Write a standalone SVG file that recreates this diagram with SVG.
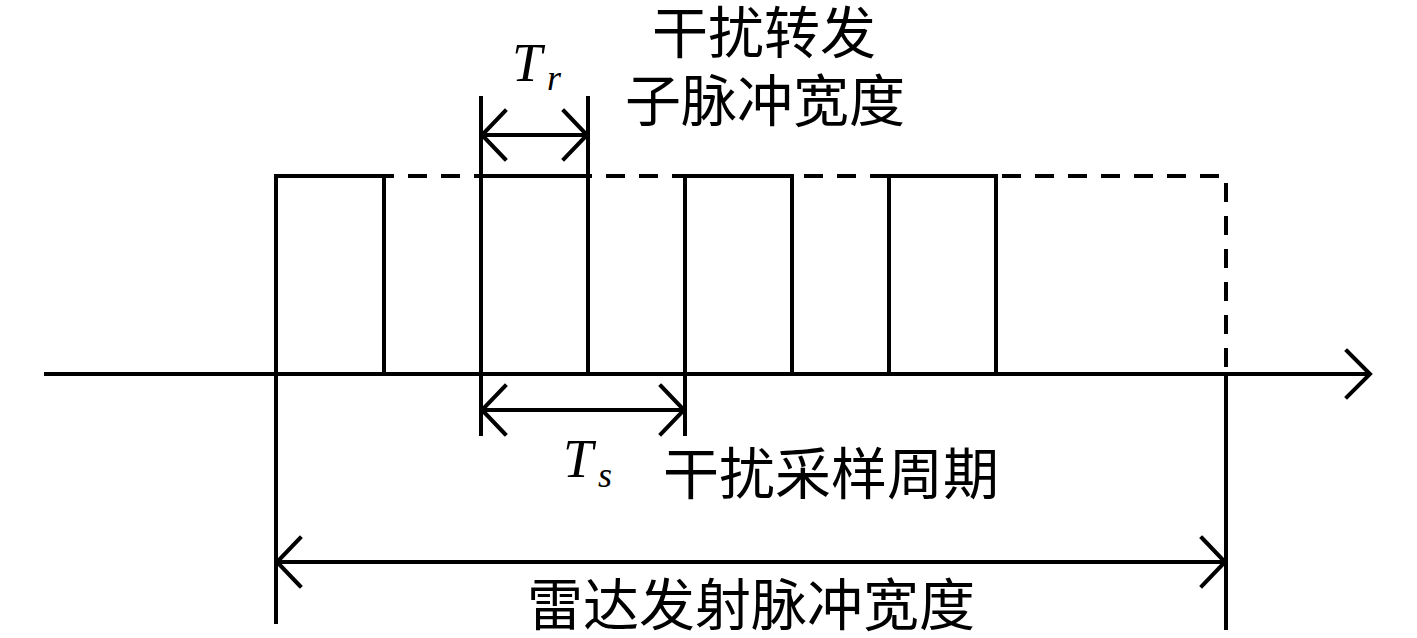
<svg xmlns="http://www.w3.org/2000/svg" width="1417" height="638" viewBox="0 0 1417 638">
<style>
.ln{stroke:#000;stroke-width:4;fill:none;stroke-linecap:square}
.ds{stroke:#000;stroke-width:4;fill:none;stroke-dasharray:19 14}
.cjk{font-family:"Noto Sans CJK SC",sans-serif;font-size:56px;fill:#000;text-anchor:middle}
.m{font-family:"Liberation Serif",serif;font-style:italic;fill:#000}
</style>
<rect width="1417" height="638" fill="#fff"/>
<g id="envelope">
<path class="ds" d="M276 176 H1226 V374"/>
</g>
<g id="pulses">
<path class="ln" d="M276 374 V176 H384 V374"/>
<path class="ln" d="M481 374 V176 H588 V374"/>
<path class="ln" d="M685 374 V176 H792 V374"/>
<path class="ln" d="M889 374 V176 H996 V374"/>
</g>
<g id="axis">
<path class="ln" d="M46 374 H1369"/>
<path class="ln" d="M1347 351 L1370 374 L1347 397" stroke-linecap="round"/>
</g>
<g id="connectors">
<path class="ln" d="M481 98 V374 M588 98 V374"/>
<path class="ln" d="M482 135 H587"/>
<path class="ln" d="M505 111 L482 135 L505 159 M564 111 L587 135 L564 159" stroke-linecap="round"/>
<path class="ln" d="M481 374 V434 M685 374 V434"/>
<path class="ln" d="M482 410 H684"/>
<path class="ln" d="M505 386 L482 410 L505 434 M661 386 L684 410 L661 434" stroke-linecap="round"/>
<path class="ln" d="M276 374 V622 M1226 374 V628"/>
<path class="ln" d="M277 562 H1225"/>
<path class="ln" d="M300 538 L277 562 L300 586 M1202 538 L1225 562 L1202 586" stroke-linecap="round"/>
</g>
<g id="labels">
<text class="cjk" x="764" y="53">干扰转发</text>
<text class="cjk" x="765" y="121">子脉冲宽度</text>
<text class="cjk" x="831" y="494">干扰采样周期</text>
<text class="cjk" x="751" y="625">雷达发射脉冲宽度</text>
<text class="m" x="512" y="81" font-size="54">T</text>
<text class="m" x="547" y="90" font-size="36">r</text>
<text class="m" x="563" y="477" font-size="54">T</text>
<text class="m" x="598" y="487" font-size="36">s</text>
</g>
</svg>
